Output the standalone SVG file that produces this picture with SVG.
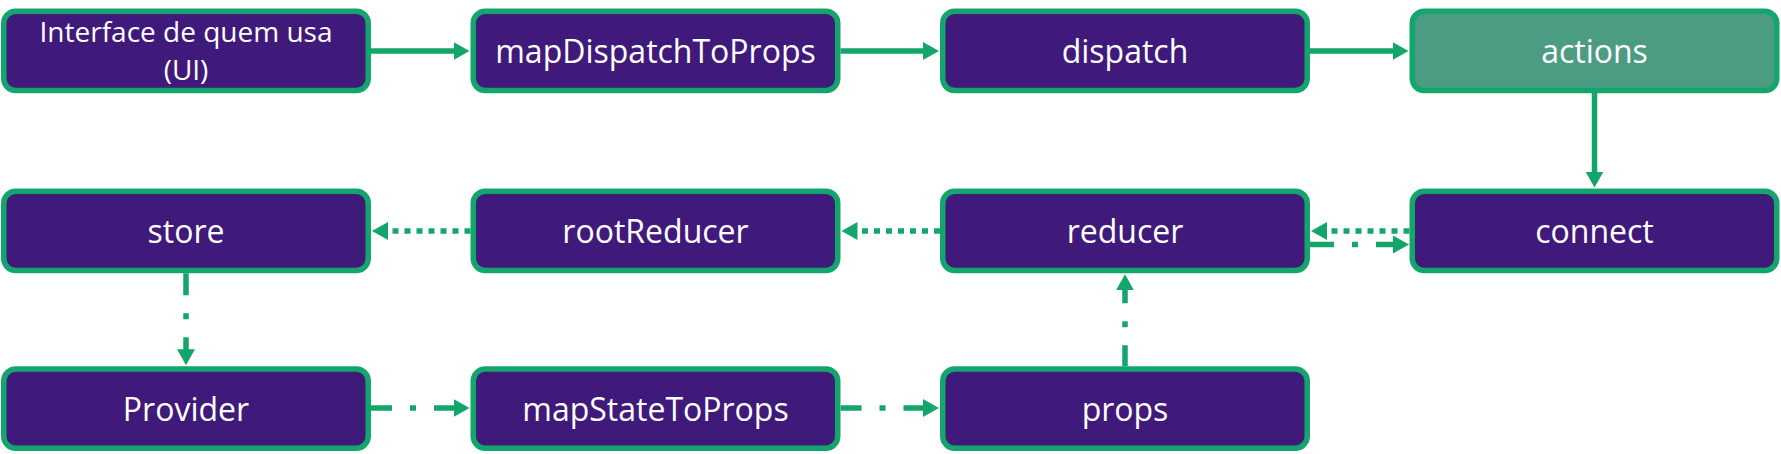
<svg xmlns="http://www.w3.org/2000/svg" width="1781" height="454" viewBox="0 0 1781 454">
  <defs>
    <style>
      .box { fill: #401A7A; stroke: #14A56C; stroke-width: 5.5; }
      .box.alt { fill: #4C9C83; }
      .lbl { fill: #FFFFFF; font-family: "Open Sans", "Noto Sans", "DejaVu Sans", sans-serif; font-size: 32px; text-anchor: middle; }
      .lbl.small { font-size: 28px; }
      .con { stroke: #14A56C; stroke-width: 5.5; fill: none; }
      .solid { marker-end: url(#arr); }
      .dot { stroke-dasharray: 6 6; marker-end: url(#arr); }
      .dashdot { marker-end: url(#arr); }
    </style>
    <marker id="arr" markerUnits="userSpaceOnUse" markerWidth="17" markerHeight="18" refX="1" refY="9" orient="auto">
      <path d="M0,0 L16,9 L0,18 Z" fill="#14A56C"/>
    </marker>
  </defs>

  <g id="connectors">
    <line class="con solid" x1="371" y1="51" x2="454.5" y2="51"/>
    <line class="con solid" x1="840.5" y1="51" x2="924" y2="51"/>
    <line class="con solid" x1="1310" y1="51" x2="1393.5" y2="51"/>
    <line class="con solid" x1="1594.5" y1="93" x2="1594.5" y2="172.5"/>
    <line class="con dot" x1="1409.5" y1="231" x2="1326" y2="231"/>
    <line class="con dashdot" stroke-dasharray="24 18 6 18" x1="1310" y1="244.5" x2="1394" y2="244.5"/>
    <line class="con dot" x1="940" y1="231" x2="856.5" y2="231"/>
    <line class="con dot" x1="470.5" y1="231" x2="387" y2="231"/>
    <line class="con dashdot" stroke-dasharray="22 18 6 18" x1="186" y1="273.3" x2="186" y2="350.3"/>
    <line class="con dashdot" stroke-dasharray="21 18 6 18" x1="371" y1="408" x2="454.5" y2="408"/>
    <line class="con dashdot" stroke-dasharray="21 18 6 18" x1="840.5" y1="408" x2="924" y2="408"/>
    <line class="con dashdot" stroke-dasharray="21 18 6 18" x1="1125" y1="366.3" x2="1125" y2="289.3"/>
  </g>

  <g id="node-ui">
    <rect class="box" x="3.75" y="11.25" width="364.5" height="79.3" rx="12"/>
    <text class="lbl small" x="186" y="42">Interface de quem usa</text>
    <text class="lbl small" x="186" y="80">(UI)</text>
  </g>
  <g id="node-mapDispatchToProps">
    <rect class="box" x="473.25" y="11.25" width="364.5" height="79.3" rx="12"/>
    <text class="lbl" x="655.5" y="63">mapDispatchToProps</text>
  </g>
  <g id="node-dispatch">
    <rect class="box" x="942.75" y="11.25" width="364.5" height="79.3" rx="12"/>
    <text class="lbl" x="1125" y="63">dispatch</text>
  </g>
  <g id="node-actions">
    <rect class="box alt" x="1412.25" y="11.25" width="364.5" height="79.3" rx="12"/>
    <text class="lbl" x="1594.5" y="63">actions</text>
  </g>

  <g id="node-store">
    <rect class="box" x="3.75" y="191.25" width="364.5" height="79.3" rx="12"/>
    <text class="lbl" x="186" y="243">store</text>
  </g>
  <g id="node-rootReducer">
    <rect class="box" x="473.25" y="191.25" width="364.5" height="79.3" rx="12"/>
    <text class="lbl" x="655.5" y="243">rootReducer</text>
  </g>
  <g id="node-reducer">
    <rect class="box" x="942.75" y="191.25" width="364.5" height="79.3" rx="12"/>
    <text class="lbl" x="1125" y="243">reducer</text>
  </g>
  <g id="node-connect">
    <rect class="box" x="1412.25" y="191.25" width="364.5" height="79.3" rx="12"/>
    <text class="lbl" x="1594.5" y="243">connect</text>
  </g>

  <g id="node-Provider">
    <rect class="box" x="3.75" y="369" width="364.5" height="79.3" rx="12"/>
    <text class="lbl" x="186" y="420.5">Provider</text>
  </g>
  <g id="node-mapStateToProps">
    <rect class="box" x="473.25" y="369" width="364.5" height="79.3" rx="12"/>
    <text class="lbl" x="655.5" y="420.5">mapStateToProps</text>
  </g>
  <g id="node-props">
    <rect class="box" x="942.75" y="369" width="364.5" height="79.3" rx="12"/>
    <text class="lbl" x="1125" y="420.5">props</text>
  </g>
</svg>
